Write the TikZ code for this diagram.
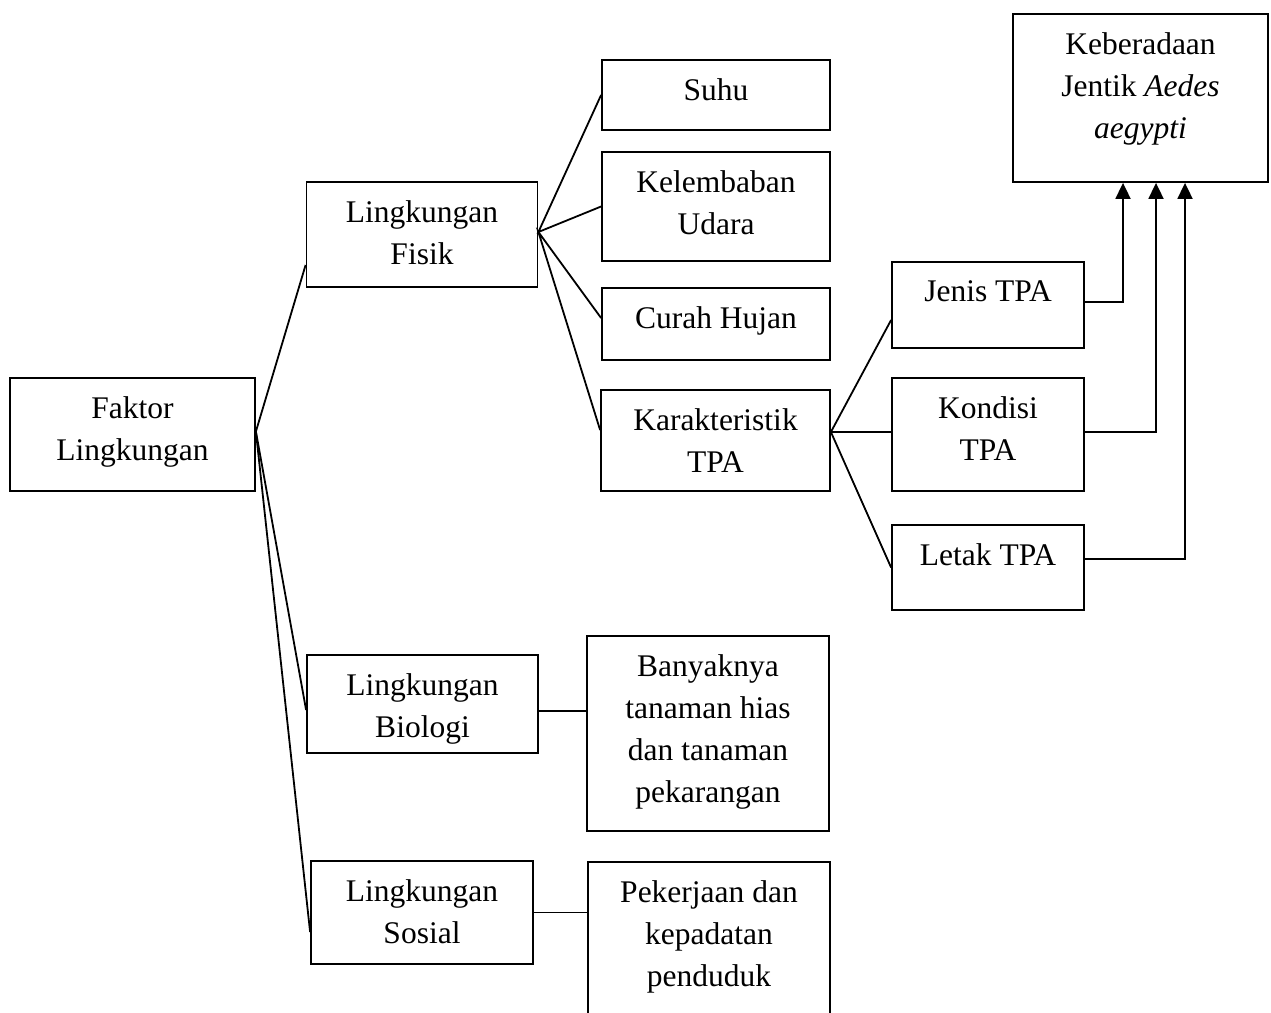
\documentclass[tikz,border=0pt]{standalone}
\usepackage{fontspec}
\setmainfont{Liberation Serif}
\usetikzlibrary{positioning,arrows.meta}

\begin{document}
\begin{tikzpicture}[x=1pt,y=-1pt,line width=1.8pt,
  kotak/.style={draw,rectangle,inner sep=0pt},
  teks/.style={inner sep=0pt,align=center,font=\fontsize{31.5}{42}\selectfont},
  panah/.style={-{Triangle[width=15pt,length=16pt]}}]
\useasboundingbox (0,0) rectangle (1271,1012);
\clip (0,0) rectangle (1271,1012);
\node[kotak,minimum width=245pt,minimum height=113pt] (faktor) at (132.5,434.5) {};
\node[kotak,minimum width=231pt,minimum height=105pt] (fisik) at (422,234.5) {};
\node[kotak,minimum width=231pt,minimum height=98pt] (biologi) at (422.5,704) {};
\node[kotak,minimum width=222pt,minimum height=103pt] (sosial) at (422,912.5) {};
\node[kotak,minimum width=228pt,minimum height=70pt] (suhu) at (716,95) {};
\node[kotak,minimum width=228pt,minimum height=109pt] (udara) at (716,206.5) {};
\node[kotak,minimum width=228pt,minimum height=72pt] (hujan) at (716,324) {};
\node[kotak,minimum width=229pt,minimum height=101pt] (karakter) at (715.5,440.5) {};
\node[kotak,minimum width=192pt,minimum height=86pt] (jenis) at (988,305) {};
\node[kotak,minimum width=192pt,minimum height=113pt] (kondisi) at (988,434.5) {};
\node[kotak,minimum width=192pt,minimum height=85pt] (letak) at (988,567.5) {};
\node[kotak,minimum width=255pt,minimum height=168pt] (jentik) at (1140.5,98) {};
\node[kotak,minimum width=242pt,minimum height=195pt] (tanaman) at (708,733.5) {};
\node[kotak,minimum width=242pt,minimum height=200pt] (penduduk) at (709,962) {};

\node[teks,below=18.5pt of faktor.north] {Faktor\\Lingkungan};
\node[teks,below=18.5pt of fisik.north] {Lingkungan\\Fisik};
\node[teks,below=18.5pt of biologi.north] {Lingkungan\\Biologi};
\node[teks,below=18.5pt of sosial.north] {Lingkungan\\Sosial};
\node[teks,below=18.5pt of suhu.north] {Suhu};
\node[teks,below=18.5pt of udara.north] {Kelembaban\\Udara};
\node[teks,below=18.5pt of hujan.north] {Curah Hujan};
\node[teks,below=18.5pt of karakter.north] {Karakteristik\\TPA};
\node[teks,below=18.5pt of jenis.north] {Jenis TPA};
\node[teks,below=18.5pt of kondisi.north] {Kondisi\\TPA};
\node[teks,below=18.5pt of letak.north] {Letak TPA};
\node[teks,below=18.5pt of jentik.north] {Keberadaan\\Jentik \textit{Aedes}\\\textit{aegypti}};
\node[teks,below=18.5pt of tanaman.north] {Banyaknya\\tanaman hias\\dan tanaman\\pekarangan};
\node[teks,below=18.5pt of penduduk.north] {Pekerjaan dan\\kepadatan\\penduduk};

\draw ([yshift=-30.5]fisik.west) -- ([yshift=3]faktor.east) -- ([yshift=-6]biologi.west);
\draw ([yshift=3]faktor.east) -- ([yshift=-19.5]sosial.west);
\draw (suhu.west) -- ([yshift=2.5]fisik.east) -- (udara.west);
\draw ([yshift=6]hujan.west) -- ([yshift=2.5]fisik.east) -- ([yshift=10.5]karakter.west);
\draw ([yshift=-15]jenis.west) -- ([yshift=8.5]karakter.east) -- ([yshift=2.5]kondisi.west);
\draw ([yshift=8.5]karakter.east) -- (letak.west);
\draw[panah] ([yshift=3]jenis.east) -| ([xshift=-17.5]jentik.south);
\draw[panah] ([yshift=2.5]kondisi.east) -| ([xshift=15.5]jentik.south);
\draw[panah] ([yshift=8.5]letak.east) -| ([xshift=44.5]jentik.south);
\draw ([yshift=-7]biologi.east) -- ([yshift=-7]biologi.east -| tanaman.west);
\draw (sosial.east) -- (sosial.east -| penduduk.west);
\end{tikzpicture}
\end{document}
